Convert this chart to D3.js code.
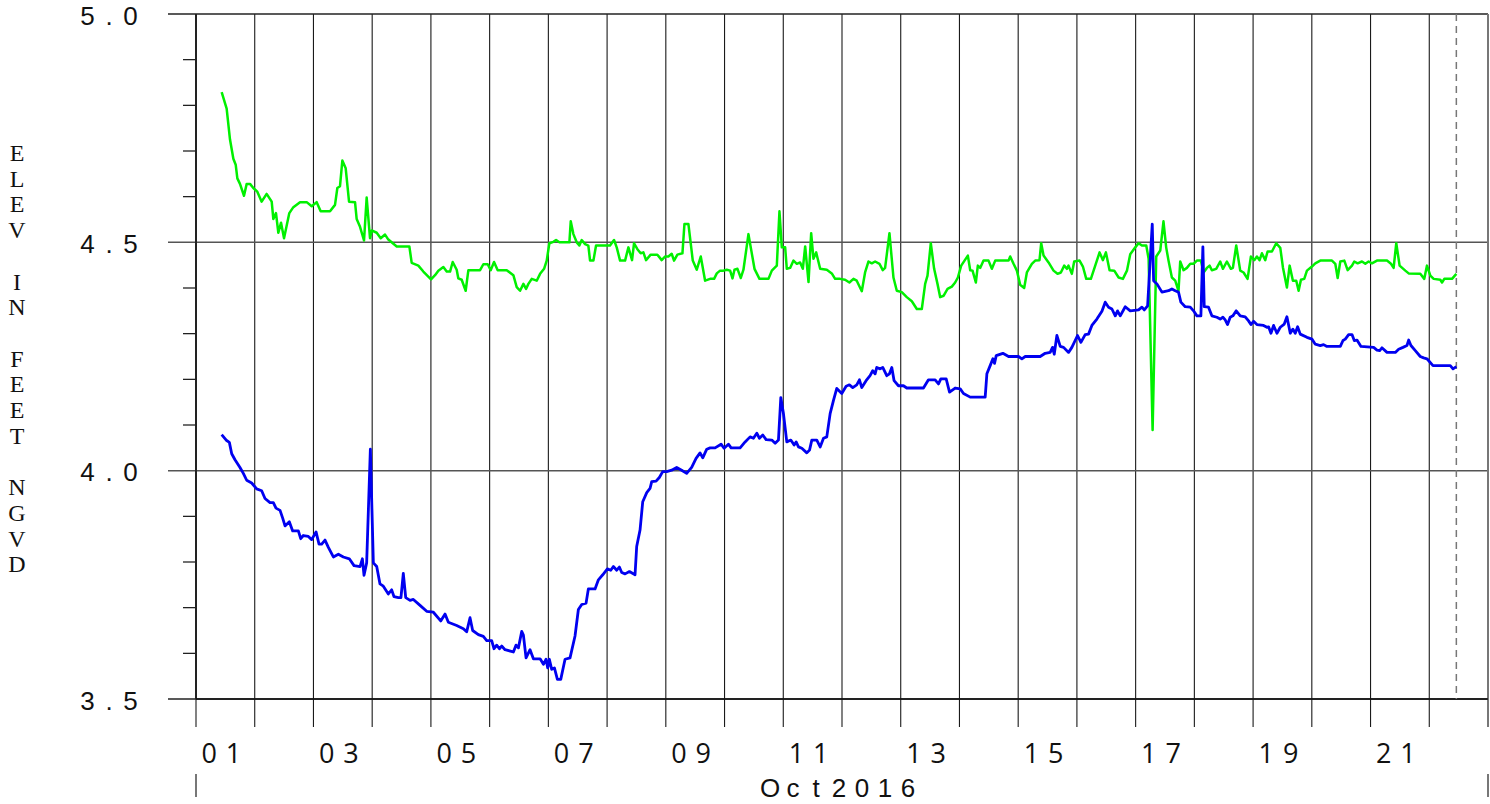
<!DOCTYPE html>
<html>
<head>
<meta charset="utf-8">
<script src="https://cdn.jsdelivr.net/npm/d3@7"></script>
<style>
  html, body { margin: 0; padding: 0; background: #ffffff; }
  svg { display: block; }
</style>
</head>
<body>
<svg id="chart" width="1490" height="804"></svg>
<script>
// ---------- DATA (time = days since 2016-10-01 00:00, value = ft NGVD) ----------
const greenT = [0.437,0.522,0.579,0.636,0.676,0.704,0.749,0.817,0.863,0.92,0.976,1.044,1.118,1.203,1.289,1.317,1.362,1.402,1.448,1.499,1.589,1.658,1.771,1.885,1.97,2.055,2.123,2.282,2.367,2.407,2.452,2.492,2.549,2.606,2.708,2.736,2.793,2.861,2.906,2.963,2.992,3.077,3.145,3.219,3.275,3.418,3.633,3.673,3.786,3.871,4.002,4.07,4.127,4.212,4.269,4.326,4.371,4.439,4.467,4.524,4.592,4.638,4.837,4.893,4.967,5.018,5.075,5.137,5.291,5.404,5.461,
5.518,5.575,5.62,5.66,5.717,5.802,5.859,5.927,5.972,6.017,6.085,6.131,6.188,6.358,6.381,6.426,6.483,6.528,6.568,6.625,6.681,6.71,6.767,6.812,7.05,7.118,7.164,7.221,7.306,7.363,7.425,7.459,7.516,7.572,7.618,7.663,7.742,7.856,7.93,7.987,8.044,8.1,8.14,8.197,8.283,8.317,8.385,8.459,8.527,8.595,8.669,8.754,8.822,8.868,8.924,8.981,9.038,9.095,9.135,9.169,9.22,9.277,9.322,9.407,9.51,9.595,9.748,9.805,9.89,9.935,9.975,10.032,10.06,10.117,10.174,10.231,10.287,10.333,10.373,10.43,10.475,10.514,10.56,10.628,10.741,10.826,10.883,
10.967,11.052,11.126,11.195,11.251,11.337,11.393,11.45,11.507,11.564,11.638,11.694,11.734,11.808,11.876,11.933,12.018,12.103,12.189,12.274,12.359,12.416,12.456,12.512,12.569,12.626,12.672,12.729,12.797,12.87,12.927,12.973,13.03,13.143,13.183,13.223,13.279,13.313,13.353,13.41,13.495,13.552,13.609,13.836,13.864,13.921,13.978,14.034,14.102,14.148,14.233,14.29,14.363,14.392,14.432,14.517,14.602,14.67,14.727,14.784,14.829,14.857,14.914,14.954,15.045,15.102,15.159,15.238,15.312,15.386,15.443,15.494,15.556,15.636,15.71,15.783,15.852,15.908,15.994,16.05,16.107,16.181,16.221,16.289,16.351,16.419,
16.474,16.52,16.56,16.617,16.674,16.73,16.759,16.816,16.873,16.93,16.986,17.043,17.111,17.157,17.213,17.259,17.298,17.372,17.44,17.486,17.554,17.622,17.656,17.713,17.781,17.838,17.906,17.963,18.02,18.065,18.111,18.15,18.207,18.247,18.321,18.394,18.463,18.508,18.576,18.622,18.678,18.735,18.775,18.815,18.871,18.917,19.002,19.059,19.144,19.343,19.4,19.44,19.485,19.553,19.61,19.684,19.723,19.78,19.854,19.911,19.967,20.024,20.109,20.28,20.348,20.393,20.438,20.495,20.592,20.649,20.847,20.915,20.961,21.018,21.075,21.188,21.217,21.256,21.387,21.461];
const greenV = [4.829,4.793,4.725,4.683,4.670,4.640,4.628,4.602,4.628,4.628,4.619,4.611,4.589,4.606,4.589,4.551,4.564,4.521,4.543,4.509,4.564,4.577,4.588,4.588,4.579,4.588,4.568,4.568,4.582,4.619,4.623,4.679,4.662,4.589,4.588,4.551,4.534,4.504,4.598,4.509,4.526,4.521,4.509,4.517,4.506,4.491,4.491,4.455,4.449,4.436,4.419,4.428,4.438,4.446,4.436,4.436,4.457,4.440,4.421,4.418,4.394,4.439,4.439,4.452,4.452,4.439,4.457,4.439,4.439,4.428,4.402,
4.394,4.409,4.398,4.409,4.420,4.416,4.431,4.442,4.460,4.498,4.501,4.505,4.500,4.500,4.546,4.518,4.500,4.493,4.505,4.496,4.493,4.460,4.460,4.493,4.493,4.505,4.489,4.460,4.460,4.489,4.461,4.498,4.485,4.476,4.478,4.461,4.473,4.473,4.461,4.469,4.469,4.475,4.460,4.473,4.476,4.540,4.540,4.460,4.440,4.469,4.416,4.420,4.420,4.432,4.438,4.438,4.440,4.438,4.421,4.440,4.442,4.422,4.440,4.518,4.442,4.420,4.420,4.438,4.449,4.568,4.489,4.489,4.442,4.444,4.460,4.453,4.456,4.442,4.491,4.413,4.520,4.464,4.478,4.442,4.440,4.432,4.420,
4.420,4.418,4.412,4.420,4.416,4.393,4.434,4.458,4.454,4.458,4.453,4.439,4.444,4.520,4.423,4.394,4.391,4.380,4.371,4.354,4.354,4.409,4.427,4.498,4.442,4.409,4.380,4.383,4.398,4.403,4.412,4.423,4.449,4.471,4.439,4.438,4.412,4.449,4.444,4.460,4.460,4.442,4.460,4.460,4.469,4.453,4.438,4.407,4.400,4.434,4.453,4.460,4.461,4.498,4.471,4.456,4.438,4.431,4.434,4.449,4.442,4.449,4.431,4.458,4.460,4.447,4.420,4.420,4.449,4.478,4.461,4.478,4.439,4.438,4.423,4.420,4.438,4.474,4.489,4.498,4.493,4.493,4.464,4.089,4.469,4.482,
4.546,4.489,4.460,4.423,4.416,4.394,4.458,4.439,4.444,4.453,4.453,4.460,4.460,4.434,4.444,4.449,4.439,4.442,4.458,4.442,4.458,4.442,4.444,4.493,4.438,4.434,4.420,4.469,4.461,4.469,4.461,4.476,4.461,4.480,4.480,4.498,4.488,4.445,4.401,4.449,4.416,4.416,4.394,4.418,4.420,4.438,4.447,4.454,4.460,4.460,4.453,4.422,4.458,4.460,4.439,4.449,4.458,4.454,4.458,4.453,4.458,4.454,4.460,4.460,4.453,4.444,4.498,4.449,4.438,4.432,4.431,4.420,4.449,4.427,4.420,4.418,4.412,4.420,4.420,4.431];

const blueT = [0.437,0.522,0.568,0.608,0.664,0.749,0.806,0.863,0.948,1.033,1.118,1.175,1.26,1.317,1.362,1.431,1.476,1.516,1.589,1.646,1.743,1.783,1.828,1.913,1.97,2.044,2.095,2.14,2.197,2.254,2.339,2.424,2.509,2.611,2.691,2.793,2.833,2.861,2.906,2.969,3.02,3.077,3.133,3.19,3.275,3.332,3.372,3.446,3.49,3.53,3.571,3.645,3.701,3.815,3.928,4.042,4.167,4.241,4.297,4.439,4.553,4.609,4.666,4.711,4.808,4.893,4.95,5.035,5.075,5.12,5.166,5.205,5.262,5.404,5.45,5.49,
5.546,5.575,5.62,5.688,5.745,5.859,5.916,5.961,5.989,6.017,6.057,6.103,6.154,6.211,6.284,6.369,6.454,6.511,6.568,6.642,6.681,6.795,6.852,6.926,7.005,7.062,7.107,7.164,7.209,7.249,7.306,7.38,7.476,7.504,7.561,7.607,7.675,7.731,7.76,7.834,7.89,7.947,8.015,8.1,8.185,8.27,8.355,8.44,8.515,8.583,8.629,8.697,8.754,8.839,8.941,8.992,9.066,9.112,9.265,9.35,9.435,9.492,9.549,9.594,9.651,9.708,9.805,9.862,9.918,9.958,10.003,10.06,10.128,10.185,10.219,10.259,10.316,10.401,10.447,10.486,10.571,10.628,10.685,10.741,10.798,10.855,10.911,10.996,11.07,
11.126,11.183,11.251,11.297,11.337,11.41,11.478,11.523,11.564,11.592,11.649,11.694,11.762,11.808,11.848,11.887,11.961,12.046,12.103,12.387,12.472,12.586,12.643,12.683,12.774,12.831,12.927,13.013,13.069,13.183,13.438,13.467,13.523,13.569,13.597,13.626,13.739,13.836,14.006,14.063,14.12,14.375,14.46,14.545,14.585,14.614,14.659,14.716,14.773,14.858,14.914,15.011,15.068,15.141,15.198,15.255,15.34,15.426,15.482,15.539,15.596,15.653,15.692,15.738,15.823,15.908,16.05,16.107,16.147,16.204,16.283,16.306,16.363,16.448,
16.56,16.617,16.674,16.73,16.77,16.844,16.93,16.986,17.043,17.111,17.145,17.168,17.241,17.298,17.383,17.44,17.486,17.525,17.565,17.61,17.656,17.713,17.781,17.866,17.923,17.963,18.008,18.065,18.178,18.235,18.264,18.304,18.349,18.406,18.463,18.531,18.576,18.633,18.678,18.718,18.758,18.803,18.917,19.002,19.059,19.144,19.2,19.257,19.485,19.531,19.57,19.627,19.684,19.723,19.769,19.837,20.053,20.109,20.155,20.194,20.28,20.422,20.478,20.552,20.62,20.649,20.688,20.762,20.847,20.904,20.961,21.063,21.358,21.404,21.461];
const blueV = [4.079,4.066,4.062,4.037,4.024,4.007,3.994,3.979,3.973,3.960,3.956,3.939,3.930,3.930,3.918,3.913,3.896,3.879,3.888,3.868,3.868,3.851,3.858,3.856,3.849,3.866,3.839,3.839,3.848,3.832,3.811,3.817,3.811,3.807,3.792,3.790,3.807,3.771,3.798,4.047,3.798,3.790,3.752,3.747,3.730,3.739,3.724,3.722,3.722,3.775,3.722,3.716,3.718,3.705,3.692,3.690,3.671,3.686,3.668,3.661,3.654,3.647,3.678,3.650,3.641,3.637,3.628,3.628,3.610,3.618,3.610,3.616,3.608,3.603,3.618,3.612,
3.648,3.640,3.590,3.608,3.588,3.588,3.576,3.587,3.568,3.587,3.565,3.568,3.543,3.543,3.587,3.590,3.638,3.696,3.707,3.710,3.741,3.741,3.761,3.772,3.785,3.782,3.790,3.782,3.789,3.777,3.774,3.779,3.772,3.834,3.870,3.932,3.952,3.961,3.976,3.977,3.985,3.998,3.998,4.001,4.007,4.001,3.994,4.007,4.027,4.039,4.028,4.047,4.050,4.050,4.058,4.049,4.058,4.050,4.050,4.063,4.074,4.071,4.082,4.071,4.078,4.068,4.067,4.060,4.067,4.160,4.125,4.063,4.067,4.056,4.063,4.052,4.049,4.039,4.045,4.067,4.067,4.052,4.071,4.074,4.125,4.154,4.180,4.169,4.185,
4.188,4.182,4.188,4.199,4.182,4.197,4.208,4.219,4.212,4.226,4.223,4.226,4.208,4.212,4.226,4.197,4.186,4.186,4.181,4.181,4.199,4.199,4.190,4.201,4.201,4.172,4.181,4.179,4.169,4.161,4.161,4.212,4.230,4.245,4.235,4.252,4.257,4.250,4.250,4.245,4.250,4.250,4.257,4.259,4.270,4.255,4.296,4.272,4.270,4.259,4.270,4.296,4.281,4.298,4.299,4.318,4.332,4.349,4.369,4.358,4.354,4.339,4.350,4.339,4.359,4.350,4.352,4.358,4.352,4.361,4.540,4.416,4.409,4.391,
4.394,4.398,4.394,4.391,4.369,4.359,4.358,4.350,4.339,4.339,4.490,4.359,4.358,4.339,4.336,4.332,4.336,4.330,4.320,4.336,4.339,4.350,4.339,4.337,4.328,4.320,4.327,4.320,4.318,4.314,4.315,4.301,4.318,4.301,4.314,4.321,4.337,4.301,4.310,4.301,4.315,4.299,4.292,4.288,4.277,4.274,4.276,4.272,4.272,4.285,4.288,4.298,4.298,4.285,4.286,4.272,4.270,4.264,4.263,4.269,4.259,4.259,4.266,4.270,4.274,4.286,4.274,4.263,4.250,4.247,4.245,4.230,4.230,4.223,4.228];

const yMajorTicks = [3.5, 4.0, 4.5, 5.0];
const yTickLabels = ["3.5", "4.0", "4.5", "5.0"];
const yMinorTicks = [3.6, 3.7, 3.8, 3.9, 4.1, 4.2, 4.3, 4.4, 4.6, 4.7, 4.8, 4.9];
const dayLabels = ["01","03","05","07","09","11","13","15","17","19","21"];
const monthLabel = "Oct2016";
const yTitle = "ELEV IN FEET NGVD";
const nowMarkDay = 21.461;   // dashed "current time" marker

// ---------- SETUP ----------
const T0 = Date.UTC(2016, 9, 1);
const toDate = d => new Date(T0 + d * 86400000);
const xStart = new Date(Date.UTC(2016, 9, 1));
const xEnd = new Date(Date.UTC(2016, 9, 23));

const L = 196, R = 1488, TOP = 14, BOT = 699;
const x = d3.scaleUtc().domain([xStart, xEnd]).range([L, R]);
const y = d3.scaleLinear().domain([3.5, 5.0]).range([BOT, TOP]);

const svg = d3.select("#chart");
const sansFont = "'Open Sans', 'Liberation Sans', sans-serif";
const ySansFont = "'Liberation Sans', Arial, sans-serif";

function spaced(g, str, cx, cy, pitch, size, family, baseline) {
  const t = g.append("text")
    .attr("font-family", family)
    .attr("font-size", size)
    .attr("fill", "#111")
    .attr("text-anchor", "middle");
  const chars = str.split("");
  const n = chars.length;
  t.selectAll("tspan").data(chars).join("tspan")
    .attr("x", (c, i) => cx + (i - (n - 1) / 2) * pitch)
    .attr("y", cy + (baseline || 0))
    .text(c => c);
  return t;
}

// ---------- GRID ----------
const grid = svg.append("g");
const days = d3.utcDay.range(xStart, d3.utcDay.offset(xEnd, 1));
grid.selectAll("line.day").data(days).join("line")
  .attr("x1", d => x(d)).attr("x2", d => x(d))
  .attr("y1", TOP).attr("y2", BOT + 28)
  .attr("stroke", "#1a1a1a").attr("stroke-width", 1.1);

grid.selectAll("line.maj").data(yMajorTicks).join("line")
  .attr("x1", 168).attr("x2", R)
  .attr("y1", d => y(d)).attr("y2", d => y(d))
  .attr("stroke", d => (d === 3.5 || d === 5.0) ? "#222" : "#555")
  .attr("stroke-width", d => (d === 3.5 || d === 5.0) ? 1.3 : 1.5);

grid.selectAll("line.min").data(yMinorTicks).join("line")
  .attr("x1", 183).attr("x2", L)
  .attr("y1", d => y(d)).attr("y2", d => y(d))
  .attr("stroke", "#111").attr("stroke-width", 1.2);

// frame
grid.append("line").attr("x1", L).attr("x2", L).attr("y1", TOP).attr("y2", BOT)
  .attr("stroke", "#222").attr("stroke-width", 2);
grid.append("line").attr("x1", R).attr("x2", R).attr("y1", TOP).attr("y2", BOT + 28)
  .attr("stroke", "#777").attr("stroke-width", 2);
grid.append("line").attr("x1", L).attr("x2", R).attr("y1", BOT).attr("y2", BOT)
  .attr("stroke", "#111").attr("stroke-width", 1.6);

// dashed now marker
grid.append("line")
  .attr("x1", x(toDate(nowMarkDay))).attr("x2", x(toDate(nowMarkDay)))
  .attr("y1", TOP).attr("y2", BOT)
  .attr("stroke", "#777").attr("stroke-width", 1.5)
  .attr("stroke-dasharray", "7,5");

// month boundary ticks
[xStart, xEnd].forEach(d => {
  grid.append("line").attr("x1", x(d)).attr("x2", x(d)).attr("y1", 774).attr("y2", 797)
    .attr("stroke", "#777").attr("stroke-width", 2);
});

// ---------- SERIES ----------
const line = d3.line().x(p => x(toDate(p[0]))).y(p => y(p[1]));
const greenData = greenT.map((t, i) => [t, greenV[i]]);
const blueData = blueT.map((t, i) => [t, blueV[i]]);

svg.append("path").datum(greenData).attr("d", line)
  .attr("fill", "none").attr("stroke", "#00f000").attr("stroke-width", 2.5)
  .attr("stroke-linejoin", "round");
svg.append("path").datum(blueData).attr("d", line)
  .attr("fill", "none").attr("stroke", "#0000f0").attr("stroke-width", 2.8)
  .attr("stroke-linejoin", "round");

// ---------- LABELS ----------
const lab = svg.append("g");
yMajorTicks.forEach((v, i) => {
  spaced(lab, yTickLabels[i], 109, y(v), 21.5, 26, ySansFont, 10.5);
});
dayLabels.forEach(s => {
  const dd = +s;
  const noon = new Date(Date.UTC(2016, 9, dd, 12));
  spaced(lab, s, x(noon) - 4, 763, 24.3, 27, sansFont, 0);
});
spaced(lab, monthLabel, 839, 797, 23, 26, ySansFont, 0);

// y title, stacked letters
const tt = lab.append("text")
  .attr("font-family", "'Liberation Serif', 'DejaVu Serif', serif")
  .attr("font-size", 24).attr("fill", "#111").attr("text-anchor", "middle");
tt.selectAll("tspan").data(yTitle.split("")).join("tspan")
  .attr("x", 17).attr("y", (c, i) => 153 + i * 25.7 + 8)
  .text(c => c);
</script>
</body>
</html>
